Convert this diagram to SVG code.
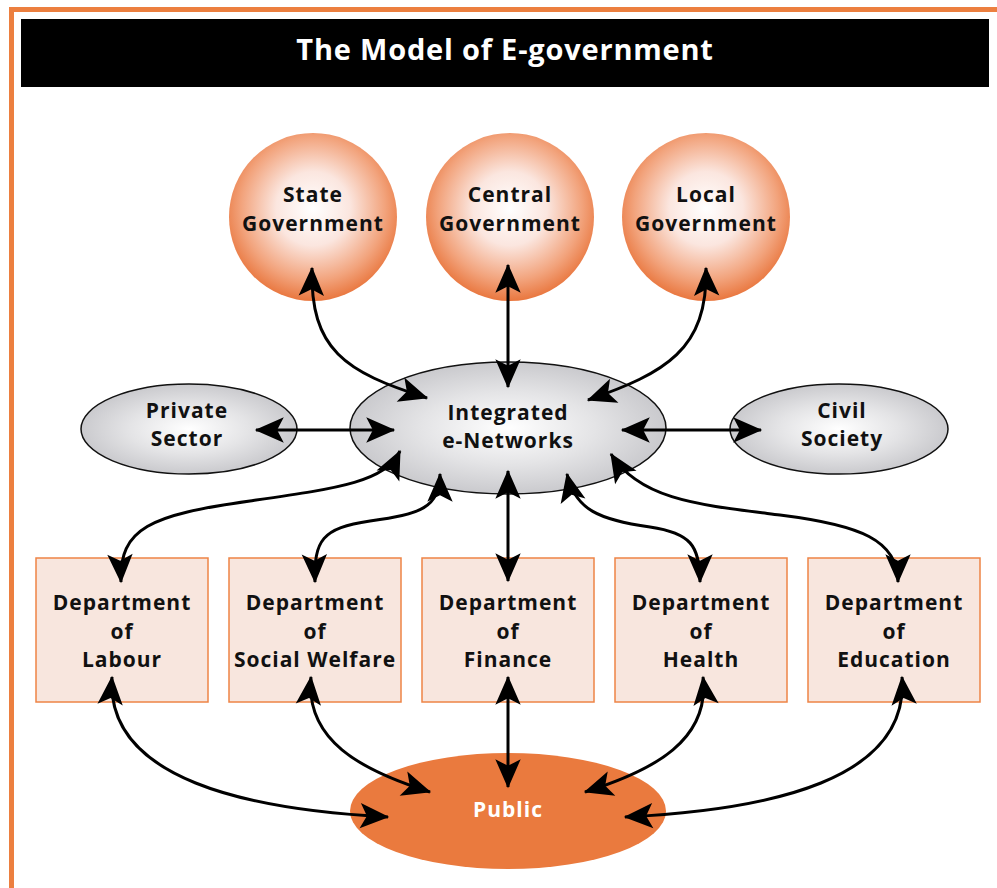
<svg xmlns="http://www.w3.org/2000/svg" width="997" height="888" viewBox="0 0 997 888">
<defs>
<radialGradient id="gOrange" cx="50%" cy="45%" r="55%">
<stop offset="0" stop-color="#ffffff"/>
<stop offset="0.4" stop-color="#fbe6df"/>
<stop offset="0.78" stop-color="#f2a37c"/>
<stop offset="1" stop-color="#e9773f"/>
</radialGradient>
<radialGradient id="gGray" cx="50%" cy="50%" r="55%">
<stop offset="0" stop-color="#ffffff"/>
<stop offset="0.5" stop-color="#e4e4e6"/>
<stop offset="1" stop-color="#c4c4c8"/>
</radialGradient>
<marker id="ah" viewBox="-26 -12 28 24" refX="0" refY="0" markerWidth="34" markerHeight="29" markerUnits="userSpaceOnUse" orient="auto-start-reverse">
<path d="M1,0 L-23,-10.5 L-17.5,0 L-23,10.5 Z" fill="#000"/>
</marker>
<style>
.lbl{font-family:"Open Sans","Liberation Sans",sans-serif;font-weight:700;font-size:21px;letter-spacing:1px;fill:#111;text-anchor:middle}
.circ{fill:url(#gOrange)}
.gray{fill:url(#gGray);stroke:#111;stroke-width:1.5}
.dept{fill:#f8e6de;stroke:#ee8446;stroke-width:1.5}
.con{fill:none;stroke:#000;stroke-width:3;marker-start:url(#ah);marker-end:url(#ah)}
</style>
</defs>
<rect x="0" y="0" width="997" height="888" fill="#fff"/>
<rect x="11.5" y="9.5" width="1000" height="900" fill="none" stroke="#ec7f3f" stroke-width="5"/>
<rect x="21" y="19" width="968" height="68" fill="#000"/>
<text x="505" y="60" font-family="'Open Sans','Liberation Sans',sans-serif" font-weight="700" font-size="29" letter-spacing="0.8" fill="#fff" text-anchor="middle">The Model of E-government</text>

<g id="state"><circle class="circ" cx="313" cy="217" r="84"/><text class="lbl" x="313" y="202">State</text><text class="lbl" x="313" y="231">Government</text></g>
<g id="central"><circle class="circ" cx="510" cy="217" r="84"/><text class="lbl" x="510" y="202">Central</text><text class="lbl" x="510" y="231">Government</text></g>
<g id="local"><circle class="circ" cx="706" cy="217" r="84"/><text class="lbl" x="706" y="202">Local</text><text class="lbl" x="706" y="231">Government</text></g>

<g id="integrated"><ellipse class="gray" cx="508" cy="428" rx="158" ry="66"/><text class="lbl" x="508" y="420">Integrated</text><text class="lbl" x="508" y="448">e-Networks</text></g>
<g id="private"><ellipse class="gray" cx="189" cy="429" rx="108" ry="45"/><text class="lbl" x="187" y="418">Private</text><text class="lbl" x="187" y="446">Sector</text></g>
<g id="civil"><ellipse class="gray" cx="839" cy="429" rx="109" ry="45"/><text class="lbl" x="842" y="418">Civil</text><text class="lbl" x="842" y="446">Society</text></g>

<g id="labour"><rect class="dept" x="36" y="558" width="172" height="144"/><text class="lbl" x="122" y="610">Department</text><text class="lbl" x="122" y="639">of</text><text class="lbl" x="122" y="667">Labour</text></g>
<g id="welfare"><rect class="dept" x="229" y="558" width="172" height="144"/><text class="lbl" x="315" y="610">Department</text><text class="lbl" x="315" y="639">of</text><text class="lbl" x="315" y="667">Social Welfare</text></g>
<g id="finance"><rect class="dept" x="422" y="558" width="172" height="144"/><text class="lbl" x="508" y="610">Department</text><text class="lbl" x="508" y="639">of</text><text class="lbl" x="508" y="667">Finance</text></g>
<g id="health"><rect class="dept" x="615" y="558" width="172" height="144"/><text class="lbl" x="701" y="610">Department</text><text class="lbl" x="701" y="639">of</text><text class="lbl" x="701" y="667">Health</text></g>
<g id="education"><rect class="dept" x="808" y="558" width="172" height="144"/><text class="lbl" x="894" y="610">Department</text><text class="lbl" x="894" y="639">of</text><text class="lbl" x="894" y="667">Education</text></g>

<g id="public"><ellipse cx="508" cy="811" rx="158" ry="58" fill="#ea7a3e"/><text class="lbl" x="508" y="817" style="fill:#fff">Public</text></g>

<g id="connectors">
<path class="con" d="M312,268 C310,350 345,372 427,398"/>
<path class="con" d="M508,265 L508,387"/>
<path class="con" d="M706,268 C708,350 665,373 588,400"/>
<path class="con" d="M256,430 L394,430"/>
<path class="con" d="M622,430 L761,430"/>
<path class="con" d="M121,582 C119,528 150,515 250,501 C340,488 385,482 400,451"/>
<path class="con" d="M315,582 C314,540 322,528 370,521 C420,514 440,508 440,474"/>
<path class="con" d="M508,471 L508,581"/>
<path class="con" d="M700,582 C700,545 690,533 650,527 C600,520 575,510 567,474"/>
<path class="con" d="M898,582 C898,540 860,525 780,515 C700,505 640,500 611,454"/>
<path class="con" d="M112,677 C105,780 250,810 388,817"/>
<path class="con" d="M311,677 C305,740 360,770 430,792"/>
<path class="con" d="M508,677 L508,787"/>
<path class="con" d="M703,677 C710,740 655,770 585,792"/>
<path class="con" d="M902,677 C910,780 770,810 625,817"/>
</g>
</svg>
